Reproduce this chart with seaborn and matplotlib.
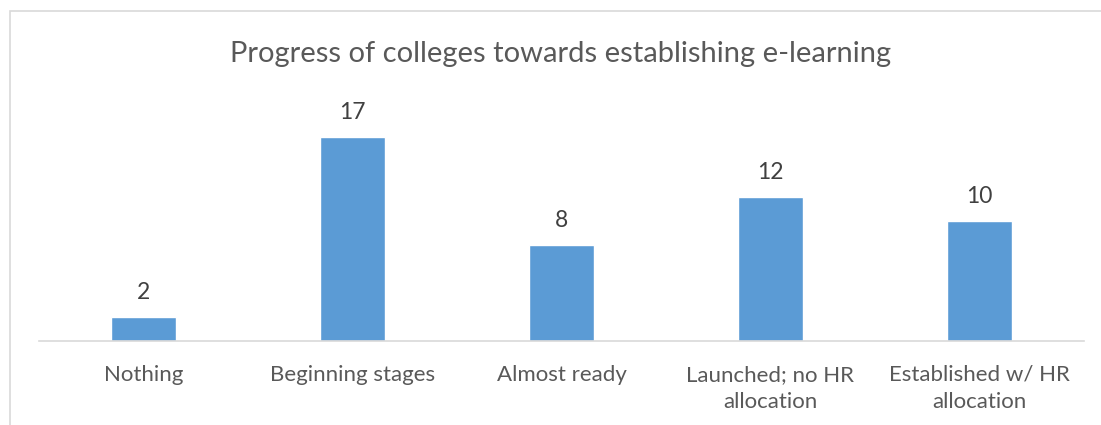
import matplotlib
matplotlib.use("Agg")
import matplotlib.pyplot as plt
import seaborn as sns
import pandas as pd
from matplotlib.patches import Rectangle

categories = ["Nothing", "Beginning stages", "Almost ready",
              "Launched; no HR\nallocation", "Established w/ HR\nallocation"]
counts = [2, 17, 8, 12, 10]
title = "Progress of colleges towards establishing e-learning"

sns.set_theme(style="white")
plt.rcParams["font.family"] = ["Lato", "DejaVu Sans"]

W, H = 1101, 425
fig = plt.figure(figsize=(W / 100, H / 100), dpi=100)

# plot area in pixel terms: axis line at y=341, 12 px per unit
left, right, base, top = 39, 1084, 341, 125
ax = fig.add_axes([left / W, (H - base) / H, (right - left) / W, (base - top) / H])

df = pd.DataFrame({"category": categories, "count": counts})
sns.barplot(data=df, x="category", y="count", color="#5B9BD5", saturation=1,
            width=0.31, ax=ax)

ax.set_ylim(0, 18)
ax.set_xlim(-0.5, len(categories) - 0.5)
ax.set_xlabel("")
ax.set_ylabel("")
ax.set_yticks([])
for s in ["top", "left", "right"]:
    ax.spines[s].set_visible(False)
ax.spines["bottom"].set_color("#D9D9D9")
ax.spines["bottom"].set_linewidth(1.2)
ax.tick_params(axis="x", length=0, pad=17, labelsize=16, labelcolor="#595959")
for lbl in ax.get_xticklabels():
    lbl.set_linespacing(1.45)

for i, v in enumerate(counts):
    ax.annotate(str(v), xy=(i, v), xytext=(0, 13), textcoords="offset points",
                ha="center", va="baseline", fontsize=16.5, color="#404040")

fig.text(0.5095, 1 - 54 / H, title, ha="center", va="center",
         fontsize=21, color="#595959")

# chart-area frame
fig.patches.append(Rectangle((10 / W, -0.1), 1.2, 1 - 11 / H + 0.1,
                             transform=fig.transFigure, fill=False,
                             edgecolor="#D9D9D9", linewidth=1.2))

fig.savefig("out.png", dpi=100, facecolor="white")
